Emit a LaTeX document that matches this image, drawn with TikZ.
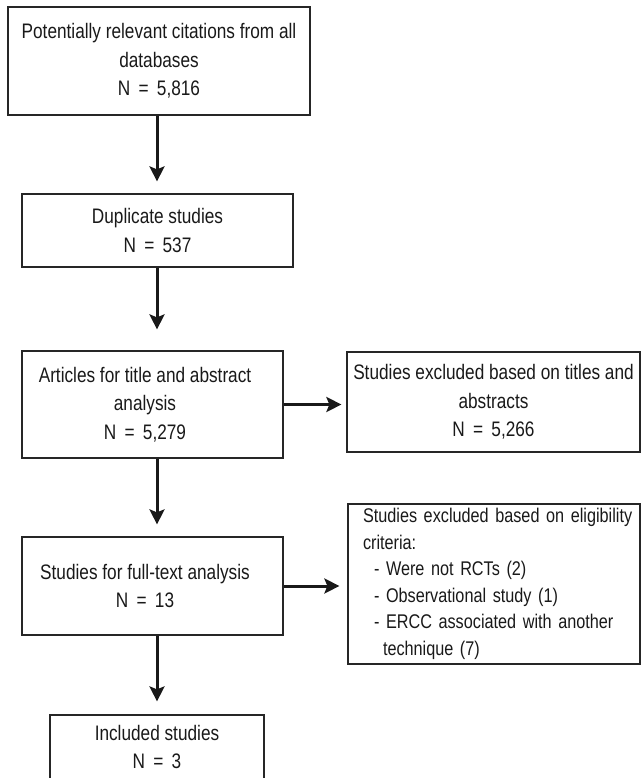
\documentclass[tikz,border=0pt]{standalone}
\usepackage{fontspec}
\setmainfont{Liberation Sans}[FakeStretch=0.82]
\usetikzlibrary{arrows.meta}

\newcommand\Nis[1]{N\,\ =\ \,#1}
\newcommand\lft[1]{\mbox{#1\hspace*{15pt}}}

\begin{document}
\begin{tikzpicture}[x=1pt, y=-1pt,
	box/.style={draw=black!85, line width=1.2pt, inner sep=0pt, align=center, text=black!90, font=\fontsize{21}{28.5}\selectfont},
	flow/.style={line width=3pt, draw=black!90, -{Stealth[length=15pt,width=15pt,inset=3pt]}}]
	\useasboundingbox (0,0) rectangle (641,778);
	%Boxes go here
	\node[box, minimum width=302pt, minimum height=108pt] (cit) at (159,61) {Potentially relevant citations from all\\databases\\\Nis{5,816}};
	\node[box, minimum width=271pt, minimum height=73pt] (dup) at (157.5,230.5) {Duplicate studies\\\Nis{537}};
	\node[box, minimum width=261pt, minimum height=107pt] (art) at (152.5,404.5) {\lft{Articles for title and abstract}\\\lft{analysis}\\\lft{\Nis{5,279}}};
	\node[box, minimum width=293pt, minimum height=100pt] (excla) at (493.5,402) {Studies excluded based on titles and\\abstracts\\\Nis{5,266}};
	\node[box, minimum width=261pt, minimum height=98pt] (full) at (152.5,586) {\lft{Studies for full-text analysis}\\\lft{\Nis{13}}};
	\node[box, minimum width=292pt, minimum height=160pt, text width=292pt, align=left, font=\fontsize{19.8}{26.5}\selectfont] (exclb) at (494,584) {%
		\mbox{\hspace*{15pt}Studies excluded based on eligibility}\\
		\mbox{\hspace*{15pt}criteria:}\\
		\mbox{\hspace*{26pt}- Were not RCTs (2)}\\
		\mbox{\hspace*{26pt}- Observational study (1)}\\
		\mbox{\hspace*{26pt}- ERCC associated with another}\\
		\mbox{\hspace*{35pt}technique (7)}};
	\node[box, minimum width=214pt, minimum height=64pt] (incl) at (157,747) {Included studies\\\Nis{3}};

	%Arrows go here
	\coordinate (ax) at (157,0);
	\draw[flow, shorten >=12pt] (cit.south -| ax) -- (dup.north -| ax);
	\draw[flow, shorten >=21pt] (dup.south -| ax) -- (art.north -| ax);
	\draw[flow, shorten >=12pt] (art.south -| ax) -- (full.north -| ax);
	\draw[flow, shorten >=13pt] (full.south -| ax) -- (incl.north -| ax);
	\draw[flow, shorten >=5pt] (art.east) -- (art.east -| excla.west);
	\draw[flow, shorten >=8pt] (full.east) -- (full.east -| exclb.west);
\end{tikzpicture}
\end{document}
